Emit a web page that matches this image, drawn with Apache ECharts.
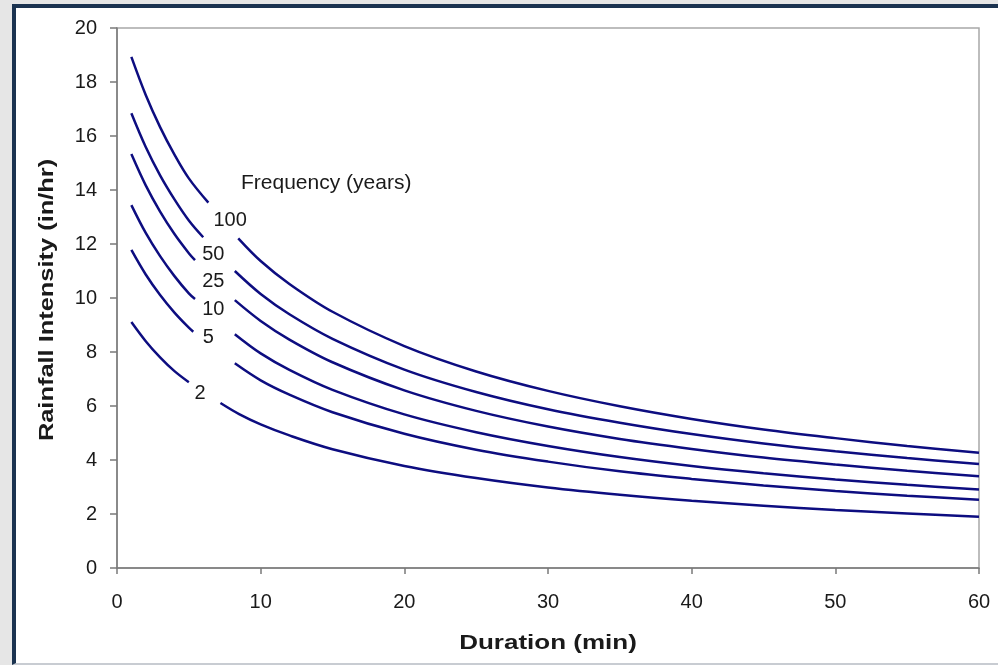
<!DOCTYPE html>
<html>
<head>
<meta charset="utf-8">
<script src="https://cdn.jsdelivr.net/npm/echarts@6/dist/echarts.min.js"></script>
<style>
    html, body { margin: 0; padding: 0; background: #e6e6e6; }
    #frame {
        position: absolute; left: 12px; top: 4px; width: 990px; height: 655px;
        background: #fff; border-top: 4px solid #1b3350; border-left: 4px solid #1b3350;
        border-bottom: 2px solid #c8ccd2;
    }
    #chart { position: absolute; left: 0; top: 0; width: 998px; height: 665px; }
</style>
</head>
<body>
<div id="frame"></div>
<div id="chart"></div>
<script>
// 各重现期曲线 [历时(min), 强度(in/hr)]，'-' 处断开给标签留空
const freq100 = [[1,18.93],[2,17.52],[3,16.33],[4,15.31],[5,14.43],[6.36,13.53],[7.4,'-'],[8.44,12.21],[10,11.37],[12,10.52],[15,9.49],[20,8.22],[25,7.28],[30,6.56],[35,5.99],[40,5.52],[45,5.13],[50,4.81],[55,4.52],[60,4.27]];
const freq50  = [[1,16.84],[2,15.59],[3,14.54],[4,13.65],[5,12.87],[6.0,12.25],[7.1,'-'],[8.2,11.0],[10,10.15],[12,9.40],[15,8.49],[20,7.35],[25,6.52],[30,5.88],[35,5.38],[40,4.96],[45,4.61],[50,4.32],[55,4.07],[60,3.85]];
const freq25  = [[1,15.33],[2,14.17],[3,13.20],[4,12.37],[5,11.66],[5.43,11.40],[6.8,'-'],[8.2,9.92],[10,9.15],[12,8.46],[15,7.62],[20,6.58],[25,5.82],[30,5.24],[35,4.78],[40,4.41],[45,4.09],[50,3.83],[55,3.60],[60,3.40]];
const freq10  = [[1,13.44],[2,12.41],[3,11.55],[4,10.81],[5,10.17],[5.43,9.96],[6.8,'-'],[8.2,8.66],[10,7.95],[12,7.34],[15,6.60],[20,5.69],[25,5.03],[30,4.52],[35,4.11],[40,3.78],[45,3.51],[50,3.28],[55,3.08],[60,2.91]];
const freq5   = [[1,11.78],[2,10.87],[3,10.11],[4,9.46],[5,8.90],[5.31,8.75],[6.8,'-'],[8.2,7.58],[10,6.95],[12,6.42],[15,5.77],[20,4.97],[25,4.38],[30,3.94],[35,3.58],[40,3.30],[45,3.06],[50,2.85],[55,2.68],[60,2.53]];
const freq2   = [[1,9.11],[2,8.40],[3,7.80],[4,7.29],[5,6.88],[6.1,'-'],[7.2,6.11],[8.5,5.70],[10,5.32],[12,4.91],[15,4.40],[20,3.78],[25,3.33],[30,2.98],[35,2.71],[40,2.49],[45,2.31],[50,2.15],[55,2.02],[60,1.90]];

const curveNames = ['100', '50', '25', '10', '5', '2'];
const curves = [freq100, freq50, freq25, freq10, freq5, freq2];

// 曲线标签位置（数据坐标）
const curveLabels = [
    { name: '100', value: [7.87, 12.86] },
    { name: '50',  value: [6.70, 11.63] },
    { name: '25',  value: [6.70, 10.60] },
    { name: '10',  value: [6.70, 9.56] },
    { name: '5',   value: [6.36, 8.54] },
    { name: '2',   value: [5.78, 6.47] }
];
const legendTitle = [{ name: 'Frequency (years)', value: [8.63, 14.26] }];

const xTicks = { min: 0, max: 60, interval: 10 };
const yTicks = { min: 0, max: 20, interval: 2 };
const xTitle = 'Duration (min)';
const yTitle = 'Rainfall Intensity (in/hr)';

const textColor = '#1a1a1a';
const lineColor = '#0d0d80';
const font = 'Liberation Sans, Arial, sans-serif';

let series = curves.map((d, i) => ({
    name: curveNames[i],
    type: 'line',
    data: d,
    showSymbol: false,
    smooth: 0.35,
    connectNulls: false,
    lineStyle: { color: lineColor, width: 2.5 },
    silent: true,
    z: 3
}));

// 文字标签用不可见的散点承载（散点默认透明度 0.8，这里改成 1）
series.push({
    type: 'scatter',
    data: curveLabels,
    symbolSize: 0,
    silent: true,
    itemStyle: { opacity: 1 },
    label: {
        show: true, position: 'inside', formatter: '{b}',
        color: textColor, fontSize: 20, fontFamily: font
    },
    z: 4
});
series.push({
    type: 'scatter',
    data: legendTitle,
    symbolSize: 0,
    silent: true,
    itemStyle: { opacity: 1 },
    label: {
        show: true, position: 'inside', align: 'left', formatter: '{b}',
        color: textColor, fontSize: 21, fontFamily: font
    },
    z: 4
});

const option = {
    backgroundColor: 'transparent',
    animation: false,
    grid: {
        left: 117, right: 19, top: 28, bottom: 97,
        show: true, borderColor: '#a8a8a8', borderWidth: 1.5
    },
    // 轴标题（原图字体较宽，横向拉伸）
    graphic: [
        {
            type: 'text', x: 548, y: 643, scaleX: 1.3, silent: true,
            style: {
                text: xTitle, fill: textColor, fontSize: 20, fontWeight: 'bold',
                fontFamily: font, align: 'center', verticalAlign: 'middle'
            }
        },
        {
            type: 'text', x: 47, y: 300, rotation: Math.PI / 2, scaleX: 1.27, silent: true,
            style: {
                text: yTitle, fill: textColor, fontSize: 20, fontWeight: 'bold',
                fontFamily: font, align: 'center', verticalAlign: 'middle'
            }
        }
    ],
    xAxis: {
        type: 'value',
        min: xTicks.min, max: xTicks.max, interval: xTicks.interval,
        axisLine: { show: true, lineStyle: { color: '#7a7a7a', width: 1.5 } },
        axisTick: { show: true, length: 6, lineStyle: { color: '#7a7a7a', width: 1.5 } },
        axisLabel: { color: textColor, fontSize: 20, fontFamily: font, margin: 24 },
        splitLine: { show: false }
    },
    yAxis: {
        type: 'value',
        min: yTicks.min, max: yTicks.max, interval: yTicks.interval,
        axisLine: { show: true, lineStyle: { color: '#7a7a7a', width: 1.5 } },
        axisTick: { show: true, length: 7, lineStyle: { color: '#7a7a7a', width: 1.5 } },
        axisLabel: { color: textColor, fontSize: 20, fontFamily: font, margin: 20 },
        splitLine: { show: false }
    },
    series: series
};

const myChart = echarts.init(document.getElementById('chart'));
myChart.setOption(option);
</script>
</body>
</html>
